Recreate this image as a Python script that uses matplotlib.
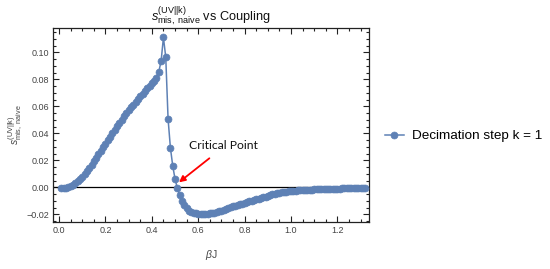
import numpy as np
import matplotlib
matplotlib.use("Agg")
import matplotlib.pyplot as plt
from matplotlib.ticker import MultipleLocator

plt.rcParams['font.family'] = ['Liberation Sans', 'DejaVu Sans']
plt.rcParams['mathtext.fontset'] = 'custom'
plt.rcParams['mathtext.rm'] = 'Liberation Sans'
plt.rcParams['mathtext.it'] = 'Liberation Sans:italic'
plt.rcParams['mathtext.bf'] = 'Liberation Sans:bold'

# ---- data (beta J, s_mis,naive) ----
beta_J = [round(0.01 * i, 2) for i in range(1, 133)]
s_mis = [
    -0.0006, -0.0006, -0.0003, 0.0004, 0.0010, 0.0020, 0.0032, 0.0046, 0.0062, 0.0080,
    0.0100, 0.0121, 0.0143, 0.0167, 0.0192, 0.0218, 0.0244, 0.0270, 0.0296, 0.0322,
    0.0348, 0.0374, 0.0400, 0.0426, 0.0452, 0.0477, 0.0501, 0.0525, 0.0548, 0.0570,
    0.0592, 0.0613, 0.0633, 0.0653, 0.0673, 0.0693, 0.0713, 0.0733, 0.0753, 0.0772,
    0.0790, 0.0807, 0.0856, 0.0936, 0.1110, 0.0963, 0.0506, 0.0293, 0.0160, 0.0061,
    -0.0007, -0.0060, -0.0100, -0.0132, -0.0156, -0.0172, -0.0183, -0.0190, -0.0194, -0.0197,
    -0.0198, -0.0198, -0.0197, -0.0195, -0.0193, -0.0190, -0.0187, -0.0183, -0.0178, -0.0172,
    -0.0166, -0.0160, -0.0154, -0.0148, -0.0142, -0.0136, -0.0130, -0.0125, -0.0120, -0.0115,
    -0.0110, -0.0105, -0.0100, -0.0095, -0.0090, -0.0085, -0.0080, -0.0075, -0.0070, -0.0064,
    -0.0058, -0.0053, -0.0048, -0.0043, -0.0040, -0.0037, -0.0034, -0.0032, -0.0030, -0.0028,
    -0.0026, -0.0024, -0.0023, -0.0022, -0.0021, -0.0020, -0.0019, -0.0018, -0.0017, -0.0016,
    -0.0016, -0.0015, -0.0015, -0.0014, -0.0013, -0.0012, -0.0011, -0.0011, -0.0010, -0.0009,
    -0.0009, -0.0008, -0.0008, -0.0007, -0.0007, -0.0006, -0.0006, -0.0005, -0.0005, -0.0004,
    -0.0004, -0.0003,
]
series_label = "Decimation step k = 1"
annot_text = "Critical Point"
annot_xy = (0.517, 0.0037)
annot_text_xy = (0.648, 0.0215)
annot_label_xy = (0.56, 0.0308)

blue = (0.368417, 0.506779, 0.709798)
gray = '#444444'

fig = plt.figure(figsize=(5.5, 2.69), dpi=100)
ax = fig.add_axes([53/550, 47/269, 316/550, 194/269])

ax.plot(beta_J, s_mis, '-o', color=blue, lw=1.1, ms=5.0, mec=blue, mfc=blue,
        mew=0.5, label=series_label, zorder=3)
ax.axhline(0, color='black', lw=0.9, zorder=2)

ax.set_xlim(-0.026, 1.336)
ax.set_ylim(-0.0257, 0.118)

ax.xaxis.set_major_locator(MultipleLocator(0.2))
ax.xaxis.set_minor_locator(MultipleLocator(0.05))
ax.yaxis.set_major_locator(MultipleLocator(0.02))
ax.yaxis.set_minor_locator(MultipleLocator(0.005))
ax.xaxis.set_major_formatter(matplotlib.ticker.FormatStrFormatter('%.1f'))
ax.yaxis.set_major_formatter(matplotlib.ticker.FuncFormatter(
    lambda v, p: ('\u2212%.2f' % abs(v)) if v < -1e-9 else '%.2f' % abs(v)))

ax.tick_params(which='both', direction='in', top=True, right=True,
               colors='#222222', labelcolor=gray, labelsize=6.5, width=0.8)
ax.tick_params(which='major', length=4, pad=3)
ax.tick_params(which='minor', length=2.2)
for sp in ax.spines.values():
    sp.set_color('#222222')
    sp.set_linewidth(0.9)

ax.set_xlabel(r'$\beta$J', color=gray, fontsize=7.5, labelpad=9)
ax.set_ylabel(r'$s^{\mathrm{(UV||k)}}_{\mathrm{mis,\ naive}}$', color=gray,
              fontsize=7.5, labelpad=1)
ax.set_title(r'$s^{\mathrm{(UV||k)}}_{\mathrm{mis,\ naive}}$ vs Coupling',
             fontsize=9.2, pad=3, color='#111111')

ax.annotate('', xy=annot_xy, xytext=annot_text_xy,
            arrowprops=dict(arrowstyle='-|>', color='red', lw=1.3,
                            mutation_scale=9, shrinkA=0, shrinkB=0), zorder=4)
ax.text(annot_label_xy[0], annot_label_xy[1], annot_text, fontsize=8.7,
        family=['Lato', 'DejaVu Sans'], va='center', ha='left', color='#111111')

fig.legend(loc='center left', bbox_to_anchor=(385/550, 1 - 136/269),
           frameon=False, fontsize=9.7, handlelength=1.4, handletextpad=0.6,
           borderaxespad=0, borderpad=0)

fig.savefig('out.png', dpi=100)
